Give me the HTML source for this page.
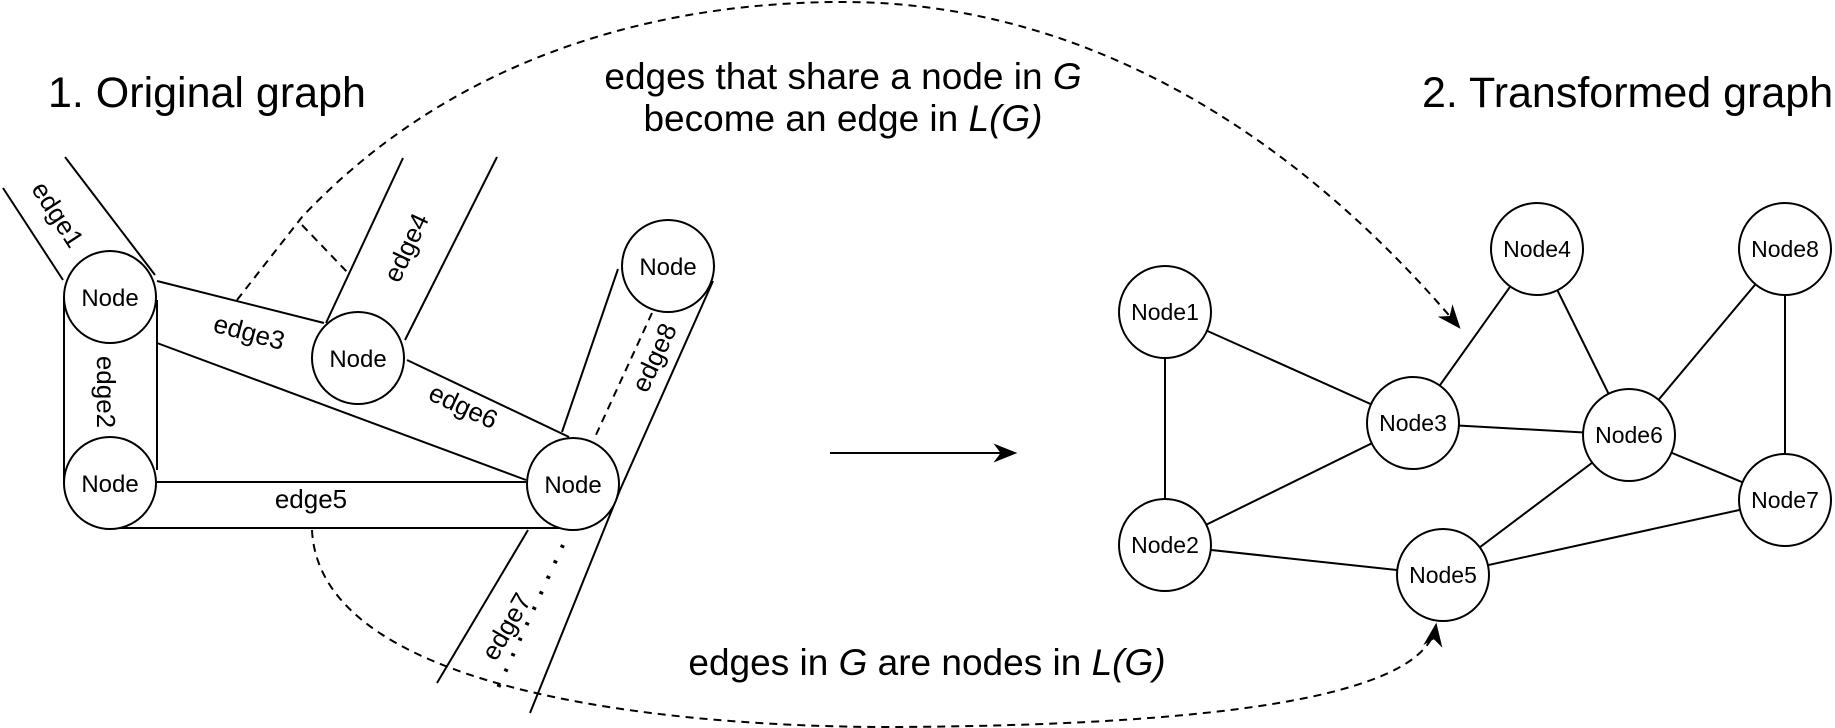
<!DOCTYPE html>
<html><head><meta charset="utf-8"><style>
html,body{margin:0;padding:0;background:#fff;}
svg{display:block;}
text{font-family:"Liberation Sans",Arial,sans-serif;fill:#000;}
</style></head><body>
<svg width="1835" height="728" viewBox="0 0 1835 728" xmlns="http://www.w3.org/2000/svg">
<defs>
<marker id="ah2" viewBox="0 0 10 10" refX="9" refY="5" markerWidth="24" markerHeight="24" orient="auto" markerUnits="userSpaceOnUse">
<path d="M0,1 L10,5 L0,9 L3,5 Z" fill="#000"/></marker>
</defs>

<text x="48" y="107" font-size="43">1. Original graph</text>
<text x="1422" y="107" font-size="43">2. Transformed graph</text>
<text x="843" y="89" font-size="37" text-anchor="middle">edges that share a node in <tspan font-style="italic">G</tspan></text>
<text x="843" y="131" font-size="37" text-anchor="middle">become an edge in <tspan font-style="italic">L(G)</tspan></text>
<text x="927" y="675" font-size="37" text-anchor="middle">edges in <tspan font-style="italic">G</tspan> are nodes in <tspan font-style="italic">L(G)</tspan></text>

<g stroke="#000" stroke-width="2" fill="none">
<line x1="3" y1="188" x2="63" y2="280"/>
<line x1="65" y1="157" x2="155" y2="275"/>
<line x1="64" y1="297" x2="64" y2="483"/>
<line x1="157" y1="300" x2="157" y2="470"/>
<line x1="157" y1="281" x2="324" y2="323"/>
<line x1="157" y1="343" x2="526" y2="480"/>
<line x1="407" y1="360" x2="569" y2="437"/>
<line x1="403" y1="158" x2="326" y2="323"/>
<line x1="497" y1="157" x2="405" y2="340"/>
<line x1="157" y1="482" x2="526" y2="482"/>
<line x1="110" y1="528" x2="573" y2="528"/>
<line x1="618" y1="269" x2="562" y2="432"/>
<polyline points="713,281 620,490 530,713"/>
<line x1="528" y1="530" x2="437" y2="683"/>
</g>
<line x1="652" y1="313" x2="595" y2="437" stroke="#000" stroke-width="2" stroke-dasharray="8,6"/>
<line x1="563" y1="545" x2="497" y2="690" stroke="#000" stroke-width="4" stroke-dasharray="3,14"/>
<line x1="302" y1="225" x2="348" y2="273" stroke="#000" stroke-width="2" stroke-dasharray="8,6"/>

<path d="M237,300 L302,217 C450,60 650,2 843,2 C1100,2 1310,150 1459,327" stroke="#000" stroke-width="2" stroke-dasharray="8,6" fill="none" marker-end="url(#ah2)"/>
<path d="M312,530 C320,700 700,728 900,727 C1200,725 1425,700 1436,625" stroke="#000" stroke-width="2" stroke-dasharray="8,6" fill="none" marker-end="url(#ah2)"/>

<g stroke="#000" stroke-width="2" fill="#fff">
<circle cx="110" cy="297" r="46"/>
<circle cx="110" cy="483" r="46"/>
<circle cx="358" cy="358" r="46"/>
<circle cx="573" cy="484" r="46"/>
<circle cx="668" cy="266" r="46"/>
</g>
<g font-size="24" text-anchor="middle">
<text x="110" y="306">Node</text>
<text x="110" y="492">Node</text>
<text x="358" y="367">Node</text>
<text x="573" y="493">Node</text>
<text x="668" y="275">Node</text>
</g>
<g font-size="26" text-anchor="middle">
<text transform="translate(57,215) rotate(57)" y="8">edge1</text>
<text transform="translate(105,392) rotate(90)" y="8">edge2</text>
<text transform="translate(249,333) rotate(15)" y="8">edge3</text>
<text transform="translate(407,248) rotate(-65)" y="8">edge4</text>
<text x="311" y="508">edge5</text>
<text transform="translate(463,407) rotate(25)" y="8">edge6</text>
<text transform="translate(507,627) rotate(-60)" y="8">edge7</text>
<text transform="translate(655,358) rotate(-65)" y="8">edge8</text>
</g>

<line x1="830" y1="453" x2="1015" y2="453" stroke="#000" stroke-width="2" marker-end="url(#ah2)"/>

<g stroke="#000" stroke-width="2">
<line x1="1165" y1="312" x2="1165" y2="545"/>
<line x1="1165" y1="312" x2="1413" y2="423"/>
<line x1="1165" y1="545" x2="1413" y2="423"/>
<line x1="1165" y1="545" x2="1443" y2="575"/>
<line x1="1413" y1="423" x2="1537" y2="249"/>
<line x1="1413" y1="423" x2="1629" y2="435"/>
<line x1="1537" y1="249" x2="1629" y2="435"/>
<line x1="1785" y1="249" x2="1629" y2="435"/>
<line x1="1785" y1="249" x2="1785" y2="500"/>
<line x1="1629" y1="435" x2="1785" y2="500"/>
<line x1="1629" y1="435" x2="1443" y2="575"/>
<line x1="1785" y1="500" x2="1443" y2="575"/>
</g>
<g stroke="#000" stroke-width="2" fill="#fff">
<circle cx="1165" cy="312" r="46"/>
<circle cx="1165" cy="545" r="46"/>
<circle cx="1413" cy="423" r="46"/>
<circle cx="1537" cy="249" r="46"/>
<circle cx="1629" cy="435" r="46"/>
<circle cx="1443" cy="575" r="46"/>
<circle cx="1785" cy="500" r="46"/>
<circle cx="1785" cy="249" r="46"/>
</g>
<g font-size="23" text-anchor="middle">
<text x="1165" y="320">Node1</text>
<text x="1165" y="553">Node2</text>
<text x="1413" y="431">Node3</text>
<text x="1537" y="257">Node4</text>
<text x="1443" y="583">Node5</text>
<text x="1629" y="443">Node6</text>
<text x="1785" y="508">Node7</text>
<text x="1785" y="257">Node8</text>
</g>
</svg>
</body></html>
